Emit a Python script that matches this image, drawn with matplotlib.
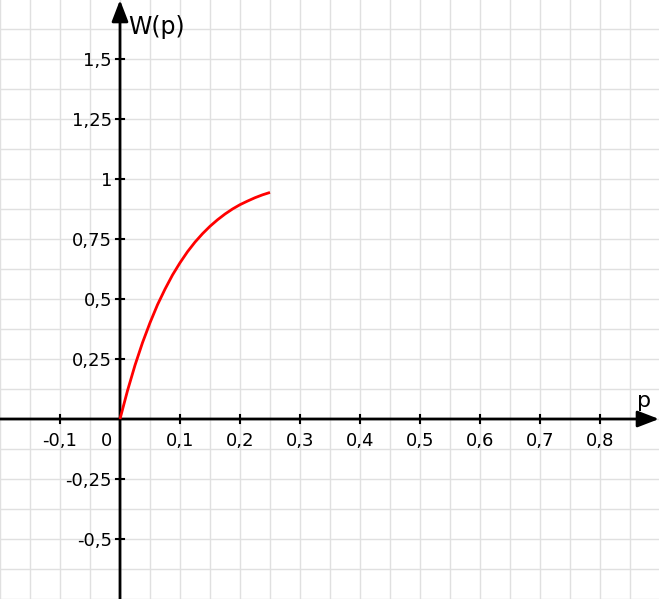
import matplotlib
matplotlib.use("Agg")
import matplotlib.pyplot as plt
import numpy as np

# data
p_vals = [0, 0.0125, 0.025, 0.0375, 0.05, 0.0625, 0.075, 0.0875, 0.1, 0.1125, 0.125,
          0.1375, 0.15, 0.1625, 0.175, 0.1875, 0.2, 0.2125, 0.225, 0.2375, 0.25]
w_vals = [0, 0.118, 0.224, 0.318, 0.401, 0.476, 0.541, 0.600, 0.651, 0.697, 0.737,
          0.772, 0.803, 0.830, 0.854, 0.875, 0.893, 0.908, 0.922, 0.934, 0.944]
x_ticks = [-0.1, 0.1, 0.2, 0.3, 0.4, 0.5, 0.6, 0.7, 0.8]
x_tick_labels = ["-0,1", "0,1", "0,2", "0,3", "0,4", "0,5", "0,6", "0,7", "0,8"]
y_ticks = [-0.5, -0.25, 0.25, 0.5, 0.75, 1, 1.25, 1.5]
y_tick_labels = ["-0,5", "-0,25", "0,25", "0,5", "0,75", "1", "1,25", "1,5"]

W, H = 659, 599
fig = plt.figure(figsize=(W / 100, H / 100), dpi=100)
ax = fig.add_axes([0, 0, 1, 1])
x0, x1 = -0.2, -0.2 + W / 600
y1 = 419 / 240
y0 = y1 - H / 240
ax.set_xlim(x0, x1)
ax.set_ylim(y0, y1)
for s in ax.spines.values():
    s.set_visible(False)
ax.set_xticks([])
ax.set_yticks([])

def px(xp):
    return (xp - 120) / 600

def py(yp):
    return (419 - yp) / 240

# grid
grid_c = "#e0e0e0"
for gx in np.arange(-0.2, x1, 0.05):
    ax.axvline(gx, color=grid_c, lw=1, zorder=0)
for gy in np.arange(-0.75, y1, 0.125):
    ax.axhline(gy, color=grid_c, lw=1, zorder=0)

# axes with arrows
ax.annotate("", xy=(x1, 0), xytext=(x0, 0),
            arrowprops=dict(arrowstyle="-|>,head_length=1.3,head_width=0.5", color="black", lw=2,
                            shrinkA=0, shrinkB=0), zorder=3)
ax.annotate("", xy=(0, y1), xytext=(0, y0),
            arrowprops=dict(arrowstyle="-|>,head_length=1.3,head_width=0.5", color="black", lw=2,
                            shrinkA=0, shrinkB=0), zorder=3)

# ticks
tl = 4 / 600
tly = 4 / 240
fs = 13
for t, lab in zip(x_ticks, x_tick_labels):
    ax.plot([t, t], [-tly, tly], color="black", lw=1.5, zorder=3)
    ax.text(t, py(446), lab, ha="center", va="baseline", fontsize=fs, family="DejaVu Sans")
for t, lab in zip(y_ticks, y_tick_labels):
    ax.plot([-tl, tl], [t, t], color="black", lw=1.5, zorder=3)
    ax.text(px(112), t, lab, ha="right", va="center_baseline", fontsize=fs, family="DejaVu Sans")
ax.text(px(112), py(446), "0", ha="right", va="baseline", fontsize=fs, family="DejaVu Sans")

ax.text(px(128), py(34), "W(p)", ha="left", va="baseline", fontsize=17, family="DejaVu Sans")
ax.text(px(637), py(407), "p", ha="left", va="baseline", fontsize=16, family="DejaVu Sans")

ax.plot(p_vals, w_vals, color="#ff0000", lw=2, zorder=4, solid_capstyle="butt")

fig.savefig("out.png", dpi=100)
